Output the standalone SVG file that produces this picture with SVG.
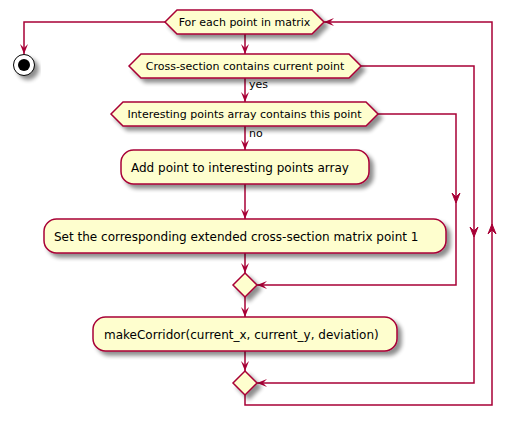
<svg xmlns="http://www.w3.org/2000/svg" width="517" height="428" viewBox="0 0 517 428">
<defs>
<filter id="sh" x="-20%" y="-20%" width="150%" height="180%">
<feGaussianBlur in="SourceAlpha" stdDeviation="2" result="b"/>
<feOffset in="b" dx="4" dy="4" result="o"/>
<feComponentTransfer in="o" result="s"><feFuncA type="linear" slope="0.45"/></feComponentTransfer>
<feMerge><feMergeNode in="s"/><feMergeNode in="SourceGraphic"/></feMerge>
</filter>
<marker id="ah" viewBox="0 0 10 8" refX="10" refY="4" markerWidth="10" markerHeight="8" markerUnits="userSpaceOnUse" orient="auto">
<polygon points="0,0 10,4 0,8 4,4" fill="#A80036"/>
</marker>
</defs>
<style>
.n{fill:#FEFECE;stroke:#A80036;stroke-width:1.5;filter:url(#sh)}
.c{fill:none;stroke:#A80036;stroke-width:1.5}
.t{font-family:"DejaVu Sans",sans-serif;font-size:12px;fill:#000}
.s{font-family:"DejaVu Sans",sans-serif;font-size:11px;fill:#000}
.a{fill:#A80036;stroke:#A80036;stroke-width:1}
</style>
<g id="connectors">
<path class="c" d="M245,34 V54" marker-end="url(#ah)"/>
<path class="c" d="M245,78 V102" marker-end="url(#ah)"/>
<path class="c" d="M245,126 V150" marker-end="url(#ah)"/>
<path class="c" d="M245,184 V219" marker-end="url(#ah)"/>
<path class="c" d="M245,253 V273" marker-end="url(#ah)"/>
<path class="c" d="M245,297 V317" marker-end="url(#ah)"/>
<path class="c" d="M245,351 V371" marker-end="url(#ah)"/>
<path class="c" d="M165,22 H24 V54" marker-end="url(#ah)"/>
<path class="c" d="M245,395 V405 H492 V22 H324" marker-end="url(#ah)"/>
<path class="c" d="M361,66 H474 V383 H257" marker-end="url(#ah)"/>
<path class="c" d="M378,114 H456 V285 H257" marker-end="url(#ah)"/>
<polygon class="a" points="456,203 452,193 456,197 460,193"/>
<polygon class="a" points="474,237 470,227 474,231 478,227"/>
<polygon class="a" points="492,224 488,234 492,230 496,234"/>
<text class="s" x="249" y="88">yes</text>
<text class="s" x="249" y="137">no</text>
</g>
<g id="stop">
<circle cx="24" cy="65" r="10.5" fill="#fff" stroke="#000" stroke-width="1" filter="url(#sh)"/>
<circle cx="24" cy="65" r="6" fill="#000"/>
</g>
<g id="loop">
<polygon class="n" points="165,22 177,10 312,10 324,22 312,34 177,34"/>
<text class="s" x="244.5" y="26" text-anchor="middle">For each point in matrix</text>
</g>
<g id="if1">
<polygon class="n" points="129,66 141,54 349,54 361,66 349,78 141,78"/>
<text class="s" x="245" y="70" text-anchor="middle">Cross-section contains current point</text>
</g>
<g id="if2">
<polygon class="n" points="111,114 123,102 366,102 378,114 366,126 123,126"/>
<text class="s" x="244.5" y="118" text-anchor="middle">Interesting points array contains this point</text>
</g>
<g id="add">
<rect class="n" x="121" y="150" width="248" height="34" rx="12.5"/>
<text class="t" x="131" y="171.5">Add point to interesting points array</text>
</g>
<g id="set">
<rect class="n" x="44" y="219" width="402" height="34" rx="12.5"/>
<text class="t" x="54" y="240.5">Set the corresponding extended cross-section matrix point 1</text>
</g>
<g id="merge1">
<polygon class="n" points="245,273 257,285 245,297 233,285"/>
</g>
<g id="corridor">
<rect class="n" x="93" y="317" width="304" height="34" rx="12.5"/>
<text class="t" x="104" y="338.5">makeCorridor(current_x, current_y, deviation)</text>
</g>
<g id="merge2">
<polygon class="n" points="245,371 257,383 245,395 233,383"/>
</g>
</svg>
